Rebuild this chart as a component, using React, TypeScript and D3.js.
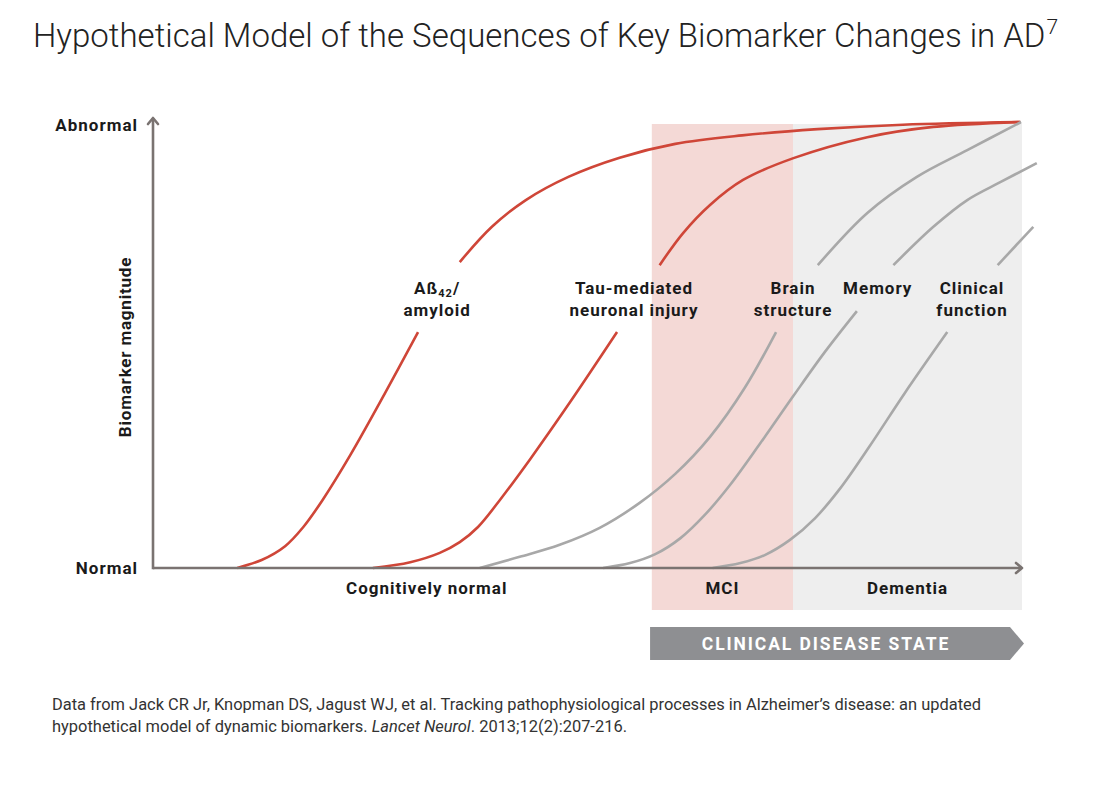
import * as d3 from "d3";

// phases along the time axis (0–100) and their boundaries
const phaseNames = ["Cognitively normal", "MCI", "Dementia"];
const phaseBounds = [0, 57.4, 73.65, 100];
const phaseFills = ["none", "#f4d9d6", "#eeeeee"];

const yTickLabels = ["Normal", "Abnormal"];

// biomarker curves: [time, magnitude 0–1], split where the label sits
const amyloidLow = [[9.7, 0], [12.5, 0.018], [15.2, 0.049], [17.3, 0.092], [19.5, 0.152], [22.7, 0.253], [26.7, 0.392], [30.5, 0.529]];
const amyloidHigh = [[35.3, 0.686], [39.0, 0.765], [42.9, 0.825], [47.8, 0.877], [53.7, 0.92], [60.1, 0.951], [67.8, 0.97], [76.5, 0.984], [86.3, 0.994], [99.8, 1.0]];
const tauLow = [[25.3, 0], [29.6, 0.013], [33.0, 0.034], [35.3, 0.058], [37.4, 0.092], [39.9, 0.152], [43.4, 0.244], [48.0, 0.372], [53.4, 0.529]];
const tauHigh = [[58.3, 0.679], [61.0, 0.751], [64.1, 0.814], [67.9, 0.87], [73.7, 0.919], [82.2, 0.966], [89.8, 0.989], [99.8, 1.0]];
const brainLow = [[37.6, 0], [42.2, 0.025], [46.8, 0.052], [51.4, 0.09], [56.0, 0.146], [60.1, 0.211], [64.1, 0.294], [68.1, 0.404], [71.7, 0.529]];
const brainHigh = [[76.5, 0.679], [82.2, 0.796], [87.9, 0.877], [93.7, 0.937], [99.9, 1.0]];
const memoryLow = [[51.8, 0], [54.9, 0.011], [57.8, 0.031], [60.7, 0.067], [63.5, 0.119], [66.4, 0.186], [69.9, 0.28], [73.7, 0.386], [77.3, 0.484], [81.0, 0.576]];
const memoryHigh = [[85.2, 0.679], [89.8, 0.765], [93.7, 0.825], [97.5, 0.865], [101.7, 0.908]];
const clinicalLow = [[64.4, 0], [67.6, 0.011], [70.4, 0.029], [73.3, 0.063], [76.2, 0.112], [79.1, 0.179], [82.5, 0.274], [86.5, 0.392], [91.4, 0.529]];
const clinicalHigh = [[97.2, 0.679], [101.3, 0.765]];

const curves = [
  { name: "amyloid", low: amyloidLow, high: amyloidHigh, color: "#cf4638" },
  { name: "tau", low: tauLow, high: tauHigh, color: "#cf4638" },
  { name: "brain", low: brainLow, high: brainHigh, color: "#a8a8a8" },
  { name: "memory", low: memoryLow, high: memoryHigh, color: "#a8a8a8" },
  { name: "clinical", low: clinicalLow, high: clinicalHigh, color: "#a8a8a8" },
];

// curve labels (time position of the label centre)
const labelLines = [["Aß42/", "amyloid"], ["Tau-mediated", "neuronal injury"], ["Brain", "structure"], ["Memory"], ["Clinical", "function"]];
const labelAt = [32.7, 55.35, 73.65, 83.4, 94.25];

const W = 1106;
const H = 794;
const FONT = "Roboto, 'Noto Sans', Arial, sans-serif";
const AXIS = "#7a7371";

export default function App() {
  const x = d3.scaleLinear().domain([0, 100]).range([153, 1022]);
  const y = d3.scaleLinear().domain([0, 1]).range([568, 122]);
  const line = d3
    .line<number[]>()
    .x((d) => x(d[0]))
    .y((d) => Math.min(y(d[1]), y(0)))
    .curve(d3.curveCatmullRom.alpha(0.5));

  const bandTop = y(1) + 2;
  const bandBottom = 610;
  const x0 = x(0);
  const xEnd = x(100);
  const yBase = y(0);

  return (
    <svg width={W} height={H} style={{ position: "absolute", left: 0, top: 0, background: "#fff" }} fontFamily={FONT}>
      {/* title */}
      <text x={33} y={47} fontSize={33} fontWeight={300} fill="#222">
        Hypothetical Model of the Sequences of Key Biomarker Changes in AD
        <tspan fontSize={21} dx={1} dy={-13}>7</tspan>
      </text>

      {/* phase bands */}
      {phaseNames.map((p, i) =>
        phaseFills[i] === "none" ? null : (
          <rect key={p} x={x(phaseBounds[i])} y={bandTop} width={x(phaseBounds[i + 1]) - x(phaseBounds[i])} height={bandBottom - bandTop} fill={phaseFills[i]} />
        )
      )}

      {/* curves */}
      {curves.map((c) => (
        <g key={c.name} fill="none" stroke={c.color} strokeWidth={2.6}>
          <path d={line(c.low) || ""} />
          <path d={line(c.high) || ""} />
        </g>
      ))}

      {/* axes */}
      <g stroke={AXIS} strokeWidth={2.6} fill="none">
        <line x1={x0} y1={yBase} x2={xEnd} y2={yBase} />
        <line x1={x0} y1={yBase + 1.3} x2={x0} y2={y(1) - 4} />
        <polyline points={`${xEnd - 6},${yBase - 5} ${xEnd},${yBase} ${xEnd - 6},${yBase + 5}`} strokeLinejoin="round" strokeLinecap="round" />
        <polyline points={`${x0 - 5},${y(1) + 2} ${x0},${y(1) - 4} ${x0 + 5},${y(1) + 2}`} strokeLinejoin="round" strokeLinecap="round" />
      </g>

      {/* y labels */}
      <g fontWeight={700} fontSize={17} letterSpacing={1} fill="#1a1a1a" textAnchor="end">
        <text x={138} y={y(1) + 9}>{yTickLabels[1]}</text>
        <text x={138} y={yBase + 6}>{yTickLabels[0]}</text>
      </g>
      <text transform={`translate(131,${(y(0) + y(1)) / 2 + 2}) rotate(-90)`} textAnchor="middle" fontWeight={700} fontSize={17} letterSpacing={0.8} fill="#1a1a1a">
        Biomarker magnitude
      </text>

      {/* phase labels */}
      <g fontWeight={700} fontSize={17} letterSpacing={1} fill="#1a1a1a" textAnchor="middle">
        {phaseNames.map((p, i) => (
          <text key={p} x={i === 0 ? x(31.5) : (x(phaseBounds[i]) + x(phaseBounds[i + 1])) / 2} y={594}>
            {p}
          </text>
        ))}
      </g>

      {/* curve labels */}
      <g fontWeight={700} fontSize={17} letterSpacing={1} fill="#1a1a1a" textAnchor="middle">
        {labelLines.map((lines, i) => (
          <text key={i} x={x(labelAt[i])} y={294}>
            {lines.map((ln, j) =>
              ln === "Aß42/" ? (
                <tspan key={j} x={x(labelAt[i])} dy={j === 0 ? 0 : 22}>
                  Aß<tspan fontSize={11} dy={3}>42</tspan>
                  <tspan dy={-3}>/</tspan>
                </tspan>
              ) : (
                <tspan key={j} x={x(labelAt[i])} dy={j === 0 ? 0 : 22}>
                  {ln}
                </tspan>
              )
            )}
          </text>
        ))}
      </g>

      {/* clinical disease state banner */}
      <polygon points={`${x(57.2)},627 ${xEnd - 12},627 ${xEnd + 2},643.5 ${xEnd - 12},660 ${x(57.2)},660`} fill="#8e8f92" />
      <text x={826} y={650} textAnchor="middle" fontWeight={700} fontSize={17.5} fill="#fff" letterSpacing={1.9}>
        CLINICAL DISEASE STATE
      </text>

      {/* source */}
      <g fontSize={16.5} fill="#333">
        <text x={52} y={710} textLength={929} lengthAdjust="spacingAndGlyphs">
          Data from Jack CR Jr, Knopman DS, Jagust WJ, et al. Tracking pathophysiological processes in Alzheimer’s disease: an updated
        </text>
        <text x={52} y={732} textLength={575} lengthAdjust="spacingAndGlyphs">
          hypothetical model of dynamic biomarkers. <tspan fontStyle="italic">Lancet Neurol</tspan>. 2013;12(2):207-216.
        </text>
      </g>
    </svg>
  );
}
